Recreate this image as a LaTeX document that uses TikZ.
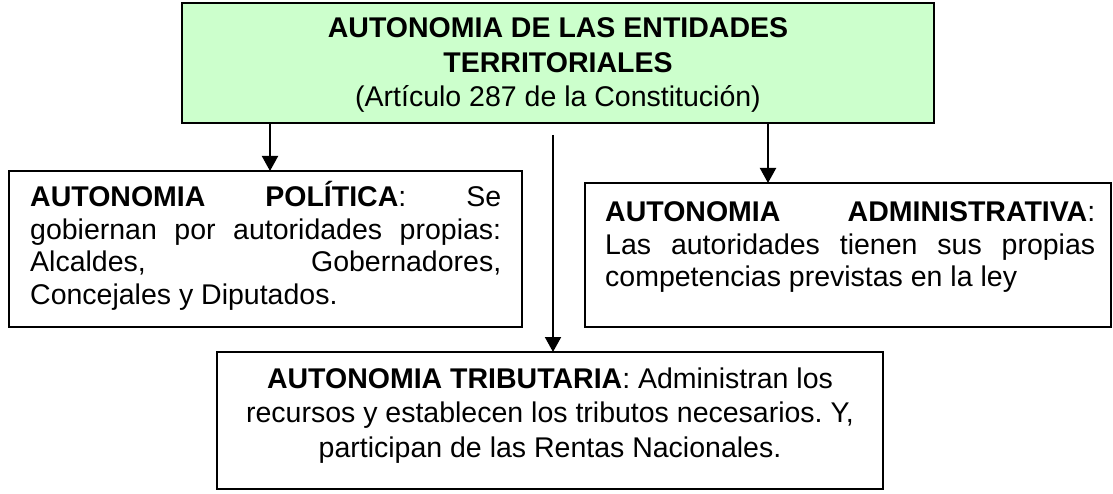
\documentclass[tikz,border=0pt]{standalone}
\usepackage{fontspec}
\setmainfont{Liberation Sans}
\usetikzlibrary{arrows.meta}
\definecolor{topgreen}{HTML}{CCFFCC}
\frenchspacing
\begin{document}
\begin{tikzpicture}[x=1pt,y=-1pt,
  box/.style={draw=black, line width=1.6pt, rectangle, inner sep=0pt, outer sep=0pt, anchor=north west},
  txt/.style={inner sep=0pt, anchor=base west, font=\fontsize{28.5}{32.5}\selectfont},
  arr/.style={line width=2pt, -{Triangle[length=15pt,width=16pt]}}]
\useasboundingbox (0,0) rectangle (1113,494);
% boxes
\node[box, fill=topgreen, line width=2.2pt, minimum width=752pt, minimum height=120pt] (top) at (182,3) {};
\node[box, minimum width=513pt, minimum height=156pt] (pol) at (9,171) {};
\node[box, minimum width=526pt, minimum height=144pt] (adm) at (585,183) {};
\node[box, minimum width=666pt, minimum height=137pt] (trib) at (217,352) {};
% texts
\node[txt, anchor=base] (topT) at (558,38) {\parbox[t]{740pt}{\centering\fontsize{28.5}{34.5}\selectfont
  \textbf{AUTONOMIA DE LAS ENTIDADES}\\\textbf{TERRITORIALES}\\(Artículo 287 de la Constitución)}};
\node[txt] (polT) at (30,207) {\parbox[t]{471pt}{%
  \makebox[\linewidth][s]{\textbf{AUTONOMIA POLÍTICA}: Se}\\
  \makebox[\linewidth][s]{gobiernan por autoridades propias:}\\
  \makebox[\linewidth][s]{Alcaldes, Gobernadores,}\\
  Concejales y Diputados.}};
\node[txt] (admT) at (605,222) {\parbox[t]{490pt}{%
  \makebox[\linewidth][s]{\textbf{AUTONOMIA ADMINISTRATIVA}:}\\
  \makebox[\linewidth][s]{Las autoridades tienen sus propias}\\
  competencias previstas en la ley}};
\node[txt, anchor=base] (tribT) at (550,388) {\parbox[t]{660pt}{\centering\fontsize{28.5}{34.5}\selectfont
  \textbf{AUTONOMIA TRIBUTARIA}: Administran los\\
  recursos y establecen los tributos necesarios. Y,\\
  participan de las Rentas Nacionales.}};
% connectors
\coordinate (lx) at (270,0);
\coordinate (rx) at (768,0);
\coordinate (mtop) at (553,135);
\draw[arr] (top.south -| lx) -- (pol.north -| lx);
\draw[arr] (top.south -| rx) -- (adm.north -| rx);
\draw[arr] (mtop) -- (trib.north -| mtop);
\end{tikzpicture}
\end{document}
